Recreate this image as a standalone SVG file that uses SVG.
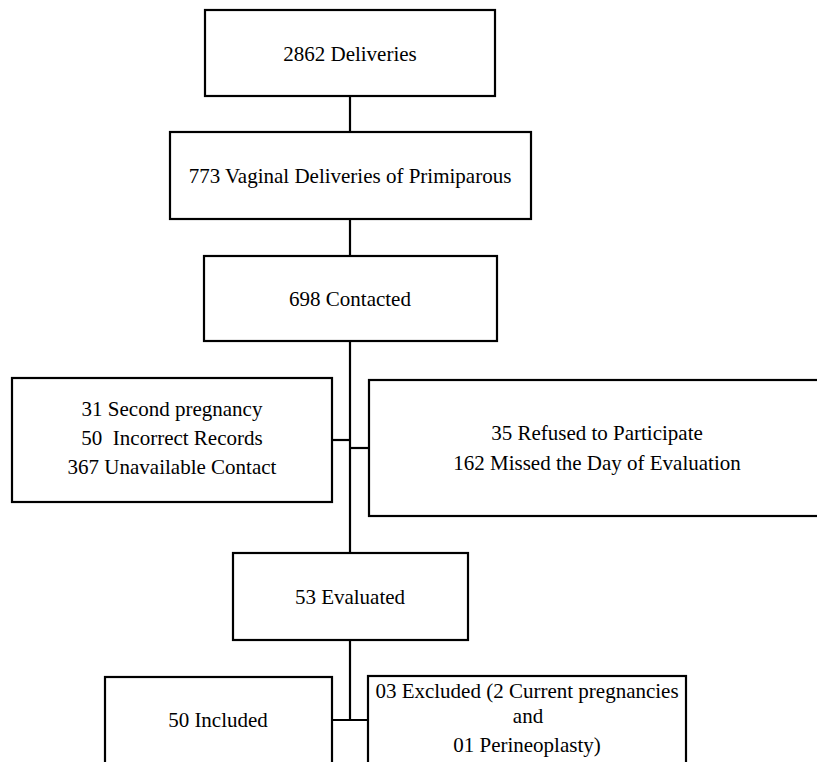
<svg xmlns="http://www.w3.org/2000/svg" width="817" height="762" viewBox="0 0 817 762">
<style>
.box{fill:#fff;stroke:#000;stroke-width:2.2}
.t{font-family:'Liberation Serif', 'Times New Roman', Times, 'DejaVu Serif', serif;font-size:21px;fill:#000;text-anchor:middle}
.c{stroke:#000;stroke-width:2.2;fill:none}
</style>
<rect width="817" height="762" fill="#fff"/>
<g id="connectors">
<line class="c" x1="350" y1="96" x2="350" y2="132"/>
<line class="c" x1="350" y1="219" x2="350" y2="256"/>
<line class="c" x1="350" y1="341" x2="350" y2="553"/>
<line class="c" x1="332" y1="440" x2="350" y2="440"/>
<line class="c" x1="350" y1="448" x2="369" y2="448"/>
<line class="c" x1="350" y1="640" x2="350" y2="720"/>
<line class="c" x1="332" y1="720" x2="368" y2="720"/>
</g>
<g id="n1">
<rect class="box" x="205" y="10" width="290" height="86"/>
<text class="t" x="350" y="61" font-family="Liberation Serif, serif">2862 Deliveries</text>
</g>
<g id="n2">
<rect class="box" x="170" y="132" width="361" height="87"/>
<text class="t" x="350" y="183">773 Vaginal Deliveries of Primiparous</text>
</g>
<g id="n3">
<rect class="box" x="204" y="256" width="293" height="85"/>
<text class="t" x="350" y="306">698 Contacted</text>
</g>
<g id="n4">
<rect class="box" x="12" y="378" width="320" height="124"/>
<text class="t" x="172" y="416">31 Second pregnancy</text>
<text class="t" x="172" y="445" xml:space="preserve">50  Incorrect Records</text>
<text class="t" x="172" y="474">367 Unavailable Contact</text>
</g>
<g id="n5">
<rect class="box" x="369" y="380" width="470" height="136"/>
<text class="t" x="597" y="440">35 Refused to Participate</text>
<text class="t" x="597" y="470">162 Missed the Day of Evaluation</text>
</g>
<g id="n6">
<rect class="box" x="233" y="553" width="235" height="87"/>
<text class="t" x="350" y="604">53 Evaluated</text>
</g>
<g id="n7">
<rect class="box" x="105" y="677" width="227" height="100"/>
<text class="t" x="218" y="727">50 Included</text>
</g>
<g id="n8">
<rect class="box" x="368" y="676" width="318" height="100"/>
<text class="t" x="527" y="698">03 Excluded (2 Current pregnancies</text>
<text class="t" x="528" y="723">and</text>
<text class="t" x="527" y="752">01 Perineoplasty)</text>
</g>
</svg>
